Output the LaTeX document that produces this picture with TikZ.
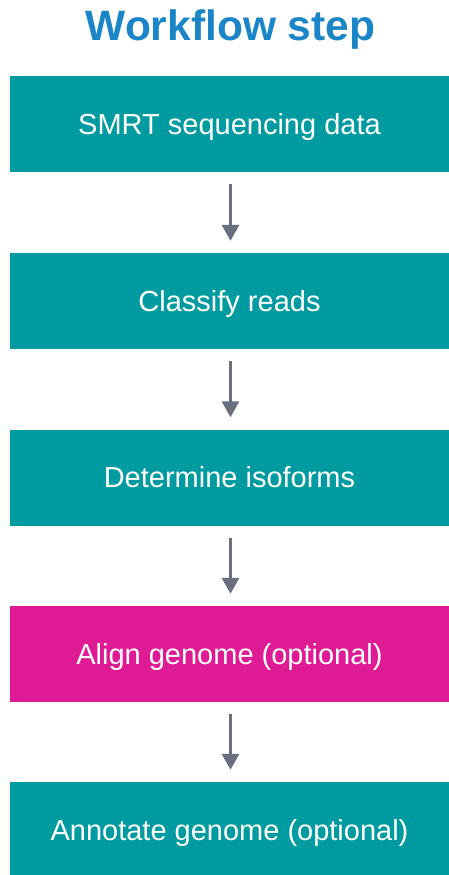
\documentclass[tikz,border=0pt]{standalone}
\usepackage{fontspec}
\setmainfont{Liberation Sans}
\usetikzlibrary{arrows.meta}
\definecolor{teal1}{RGB}{0,155,160}
\definecolor{magenta1}{RGB}{222,26,148}
\definecolor{titleblue}{RGB}{26,134,200}
\definecolor{arrowgray}{RGB}{106,111,128}
\tikzset{
  stepbox/.style={fill=#1, draw=none, minimum width=439pt, minimum height=96pt,
    inner sep=0pt, text=white, font=\fontsize{29}{33}\selectfont,
    text height=20.8pt, text depth=0pt},
  flowarrow/.style={draw=arrowgray, line width=3pt,
    -{Triangle[width=17pt,length=16pt]}, shorten <=12pt, shorten >=12pt}
}
\begin{document}
\begin{tikzpicture}[x=1pt,y=-1pt]
\useasboundingbox (0,0) rectangle (449,875);
\clip (0,0) rectangle (449,875);
\node[text=titleblue, font=\bfseries\fontsize{42.5}{46}\selectfont, text height=30.4pt, text depth=0pt, inner sep=0pt] (title) at (230.5,25.5) {Workflow step};
\node[stepbox=teal1] (b1) at (229.5,124) {SMRT sequencing data};
\node[stepbox=teal1] (b2) at (229.5,301) {Classify reads};
\node[stepbox=teal1] (b3) at (229.5,477.5) {Determine isoforms};
\node[stepbox=magenta1] (b4) at (229.5,654) {Align genome (optional)};
\node[stepbox=teal1] (b5) at (229.5,830) {Annotate genome (optional)};
\draw[flowarrow] ([xshift=1pt]b1.south) -- ([xshift=1pt]b2.north);
\draw[flowarrow] ([xshift=1pt]b2.south) -- ([xshift=1pt]b3.north);
\draw[flowarrow] ([xshift=1pt]b3.south) -- ([xshift=1pt]b4.north);
\draw[flowarrow] ([xshift=1pt]b4.south) -- ([xshift=1pt]b5.north);
\end{tikzpicture}
\end{document}
